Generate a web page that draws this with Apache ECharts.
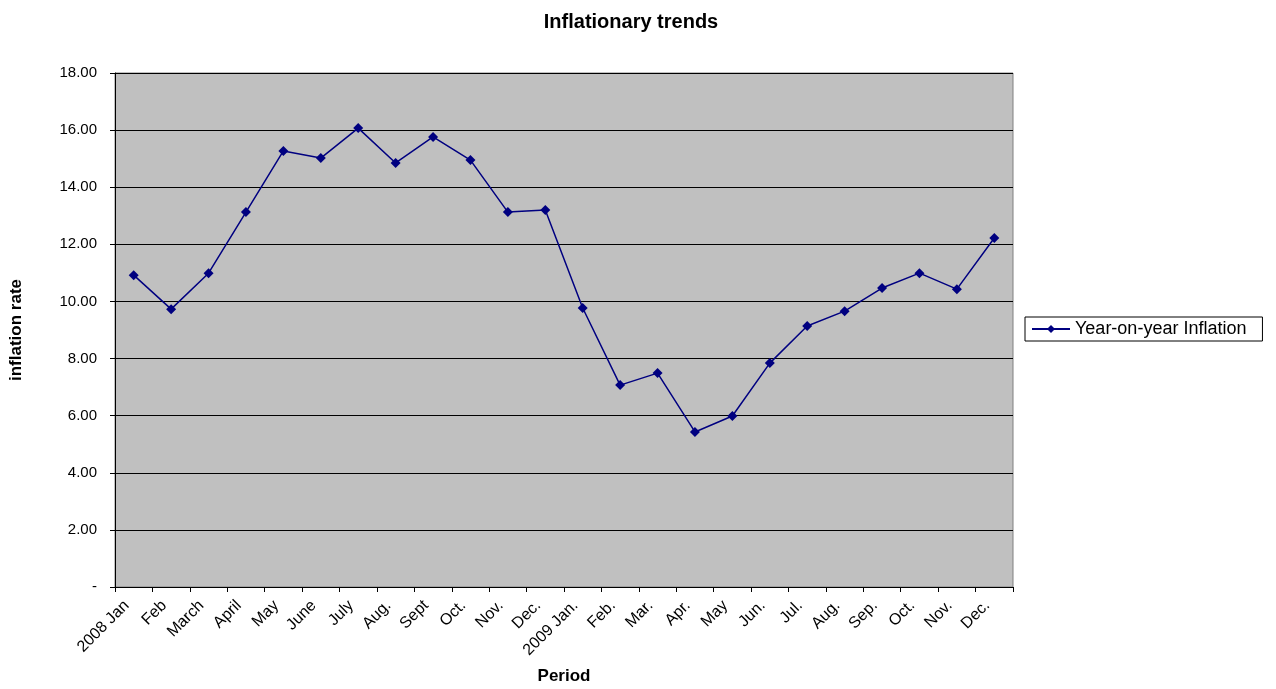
<!DOCTYPE html>
<html>
<head>
<meta charset="utf-8">
<script src="https://cdn.jsdelivr.net/npm/echarts@6/dist/echarts.min.js"></script>
<style>
  html, body { margin: 0; padding: 0; background: #fff; }
  #chart { width: 1276px; height: 689px; }
</style>
</head>
<body>
<div id="chart"></div>
<script>
const periods = ['2008 Jan', 'Feb', 'March', 'April', 'May', 'June', 'July', 'Aug.', 'Sept', 'Oct.', 'Nov.', 'Dec.',
    '2009 Jan.', 'Feb.', 'Mar.', 'Apr.', 'May', 'Jun.', 'Jul.', 'Aug.', 'Sep.', 'Oct.', 'Nov.', 'Dec.'];
const inflation = [10.92, 9.73, 10.99, 13.13, 15.27, 15.02, 16.07, 14.85, 15.76, 14.95, 13.13, 13.20,
    9.77, 7.07, 7.49, 5.43, 5.99, 7.84, 9.14, 9.66, 10.47, 10.99, 10.43, 12.22];

const font = '"Liberation Sans", Arial, sans-serif';
const chart = echarts.init(document.getElementById('chart'));
chart.setOption({
    animation: false,
    title: {
        text: 'Inflationary trends',
        left: 626, top: 7, textAlign: 'center',
        textStyle: {fontFamily: font, fontSize: 20, fontWeight: 'bold', color: '#000'}
    },
    legend: {
        data: ['Year-on-year Inflation'],
        orient: 'vertical',
        left: 1025, top: 317,
        padding: [3, 16, 3, 6],
        borderColor: '#000', borderWidth: 1,
        itemWidth: 38, itemHeight: 10,
        textStyle: {fontFamily: font, fontSize: 18, color: '#000'}
    },
    grid: {left: 115, right: 263, top: 73, bottom: 102, show: true, outerBoundsMode: 'none',
        backgroundColor: '#c0c0c0', borderColor: '#808080', borderWidth: 1},
    xAxis: {
        type: 'category',
        data: periods,
        name: 'Period',
        nameLocation: 'middle',
        nameGap: 81,
        nameTextStyle: {fontFamily: font, fontSize: 17, fontWeight: 'bold', color: '#000'},
        axisLine: {lineStyle: {color: '#000'}},
        axisTick: {show: true, length: 5, lineStyle: {color: '#000'}},
        axisLabel: {rotate: 45, fontFamily: font, fontSize: 16, color: '#000', margin: 9,
            padding: [0, 10, 0, 0], interval: 0}
    },
    yAxis: {
        type: 'value',
        min: 0, max: 18, interval: 2,
        name: 'inflation rate',
        nameLocation: 'middle',
        nameGap: 90,
        nameTextStyle: {fontFamily: font, fontSize: 17, fontWeight: 'bold', color: '#000'},
        axisLine: {show: true, lineStyle: {color: '#000'}},
        axisTick: {show: true, length: 5, lineStyle: {color: '#000'}},
        splitLine: {lineStyle: {color: '#000', width: 1}},
        axisLabel: {fontFamily: font, fontSize: 15, color: '#000', margin: 18,
            formatter: v => v === 0 ? '-' : v.toFixed(2)}
    },
    series: [{
        name: 'Year-on-year Inflation',
        type: 'line',
        data: inflation,
        symbol: 'diamond',
        symbolSize: 10,
        itemStyle: {color: '#000080'},
        lineStyle: {color: '#000080', width: 1.5}
    }]
});
</script>
</body>
</html>
